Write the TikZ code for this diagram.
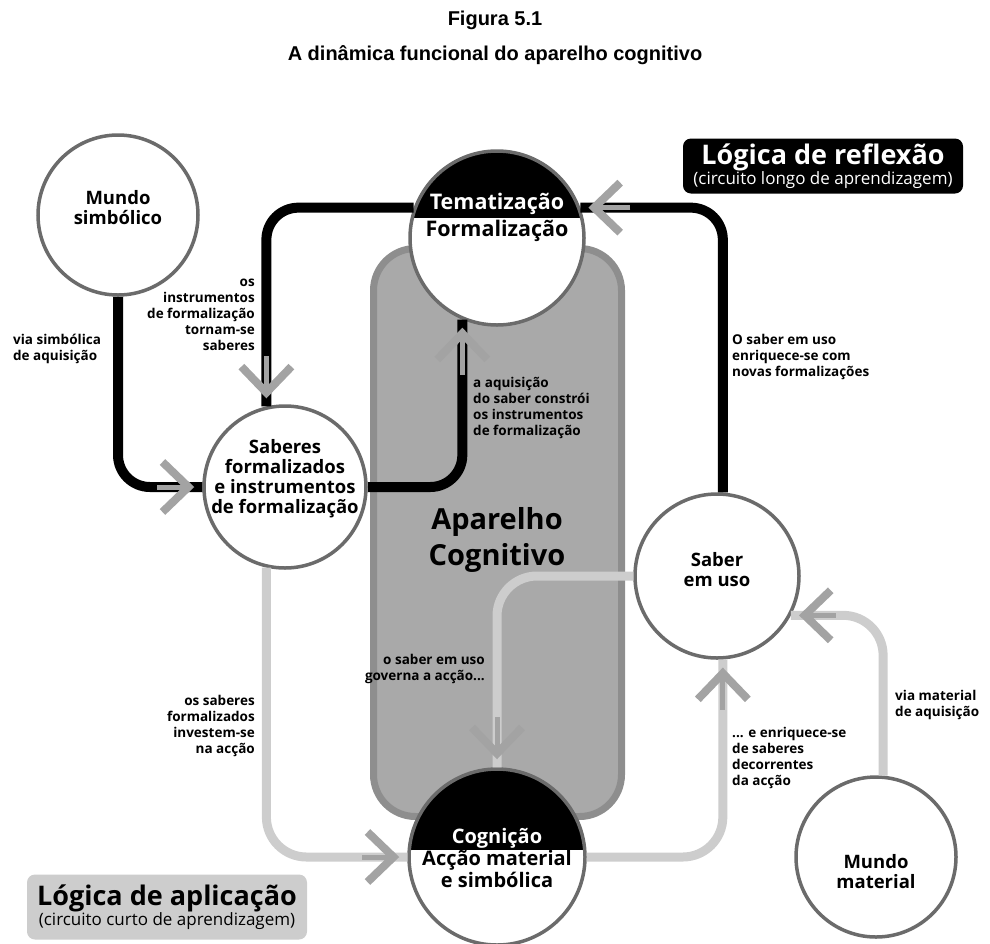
\documentclass[tikz,border=0pt]{standalone}
\usepackage{fontspec}
\setmainfont{Open Sans}
\newfontfamily\arialfont{Liberation Sans}
\usetikzlibrary{arrows.meta}
\definecolor{rimgray}{HTML}{6B6B6B}
\definecolor{boxgray}{HTML}{A9A9A9}
\definecolor{boxrim}{HTML}{8E8E8E}
\definecolor{palegray}{HTML}{CDCDCD}
\definecolor{tipgray}{HTML}{A3A3A3}
\tikzstyle{disc}=[circle,draw=rimgray,line width=3.5pt,fill=white,inner sep=0pt]
\tikzstyle{disctext}=[align=center,font=\bfseries\fontsize{18.5}{20}\selectfont,inner sep=0pt]
\tikzstyle{bigtext}=[align=center,inner sep=0pt]
\tikzstyle{note}=[font=\bfseries\fontsize{13.5}{16}\selectfont,inner sep=0pt]
\tikzstyle{long route}=[draw,line width=10pt,rounded corners=32pt]
\tikzstyle{short route}=[draw=palegray,line width=9pt,rounded corners=40pt]
\tikzstyle{chevron}=[draw=tipgray,line width=5pt,shorten >=8pt,-{Straight Barb[length=26pt,width=50pt,line width=8pt]}]
\tikzset{halfblack/.style={path picture={\fill[black] (path picture bounding box.north west) rectangle ([yshift=#1]path picture bounding box.east);}}}

\begin{document}
\begin{tikzpicture}[x=1pt,y=-1pt]
          \useasboundingbox (0,0) rectangle (990,943);
          % title
          \node[font=\arialfont\bfseries\fontsize{20}{24}\selectfont] (fig) at (495,20) {Figura 5.1};
          \node[font=\arialfont\bfseries\fontsize{20}{24}\selectfont] (tit) at (495,55) {A dinâmica funcional do aparelho cognitivo};
          % aparelho
          \node[draw=boxrim,fill=boxgray,line width=7pt,rounded corners=42pt,minimum width=248pt,minimum height=568pt] (ap) at (497.5,532.5) {};
          \node[font=\bfseries\fontsize{29}{36}\selectfont,align=center] (aptxt) at (497,540) {Aparelho\\Cognitivo};
          % circles
          \node[disc,minimum size=174pt,halfblack=20pt] (tem) at (497,238) {};
          \node[disc,minimum size=176pt,halfblack=7pt] (cog) at (497,857) {};
          \node[disc,minimum size=160pt] (ms) at (118,215) {};
          \node[disc,minimum size=162pt] (sab) at (285,487) {};
          \node[disc,minimum size=164pt] (seu) at (717,576) {};
          \node[disc,minimum size=160pt] (mm) at (876,857) {};
          % long circuit
          \draw[long route] (ms.south) |- (sab.west);
          \draw[chevron] ([xshift=-45pt]sab.west) -- (sab.west);
          \draw[long route] (tem.160) -| (sab.103);
          \draw[chevron] ([yshift=50pt]sab.103) -- (sab.103);
          \draw[long route] (sab.east) -| (tem.247);
          \draw[chevron] ([yshift=-55pt]tem.247) -- (tem.247);
          \draw[long route] (seu.86) |- (tem.20);
          \draw[chevron] ([xshift=50pt]tem.20) -- (tem.20);
          % short circuit
          \draw[short route] (seu.west) -| (cog.north);
          \draw[chevron] ([yshift=50pt]cog.north) -- (cog.north);
          \draw[short route] (cog.east) -| (seu.274);
          \draw[chevron] ([yshift=-50pt]seu.274) -- (seu.274);
          \draw[short route] (mm.85) |- (seu.-28);
          \draw[chevron] ([xshift=45pt]seu.-28) -- (seu.-28);
          \draw[short route] (sab.257) |- (cog.west);
          \draw[chevron] ([xshift=-45pt]cog.west) -- (cog.west);
          % circle texts
          \node[disctext] (mstxt) at (118,208) {Mundo\\simbólico};
          \node[disctext] (sabtxt) at (285,479) {Saberes\\formalizados\\e instrumentos\\de formalização};
          \node[disctext] (seutxt) at (717,570) {Saber\\em uso};
          \node[disctext] (mmtxt) at (876,872) {Mundo\\material};
          \node[bigtext,font=\bfseries\fontsize{21.5}{27}\selectfont] (temtxt) at (497,217) {\textcolor{white}{Tematização}\\Formalização};
          \node[bigtext,font=\bfseries\fontsize{20}{22}\selectfont] (cogtxt) at (497,858) {\textcolor{white}{Cognição}\\Acção material\\e simbólica};
          % notes
          \node[note,anchor=north west,align=left] (viasim) at (13,334) {via simbólica\\de aquisição};
          \node[note,anchor=north east,align=right] (instr) at (255,279) {os\\instrumentos\\de formalização\\tornam-se\\saberes};
          \node[note,anchor=north west,align=left] (aquis) at (473,377) {a aquisição\\do saber constrói\\os instrumentos\\de formalização};
          \node[note,anchor=north west,align=left] (enriq) at (732,334) {O saber em uso\\enriquece-se com\\novas formalizações};
          \node[note,anchor=north east,align=right] (govern) at (485,654) {o saber em uso\\governa a acção...};
          \node[note,anchor=north east,align=right] (invest) at (255,695) {os saberes\\formalizados\\investem-se\\na acção};
          \node[note,anchor=north west,align=left] (viamat) at (895,690) {via material\\de aquisição};
          \node[note,anchor=north west,align=left] (decor) at (732,727) {... e enriquece-se\\de saberes\\decorrentes\\da acção};
          % logic boxes
          \node[fill=black,text=white,rounded corners=8pt,minimum width=280pt,minimum height=55pt,align=center,inner sep=0pt,font=\fontsize{17}{19}\selectfont] (reflex) at (823,166) {{\bfseries\fontsize{27}{24}\selectfont Lógica de reflexão}\\(circuito longo de aprendizagem)};
          \node[fill=palegray,rounded corners=8pt,minimum width=280pt,minimum height=65pt,align=center,inner sep=0pt,font=\fontsize{17}{19}\selectfont] (aplic) at (167,907) {{\bfseries\fontsize{27}{24}\selectfont Lógica de aplicação}\\(circuito curto de aprendizagem)};
        \end{tikzpicture}
\end{document}
